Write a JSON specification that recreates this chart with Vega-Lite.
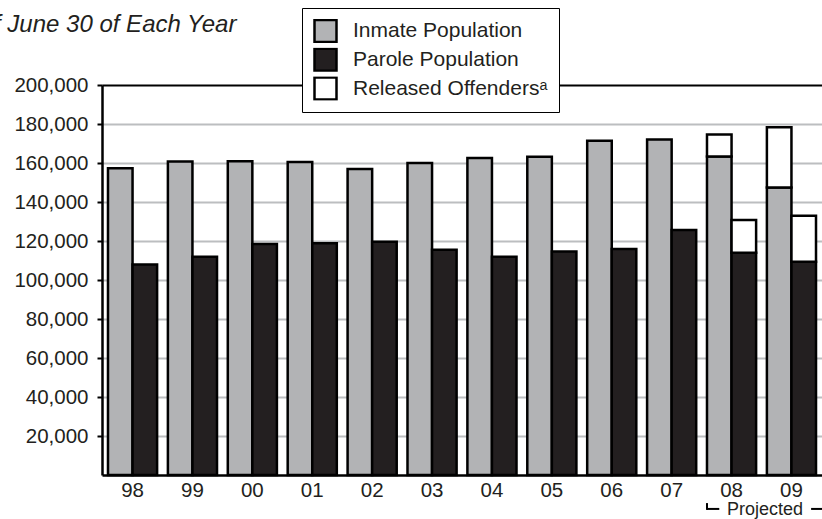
{
  "$schema": "https://vega.github.io/schema/vega-lite/v6.json",
  "width": 720,
  "height": 390,
  "autosize": "none",
  "padding": {"left": 102, "top": 85, "right": 0, "bottom": 44},
  "background": "white",
  "config": {"view": {"stroke": null}, "font": "Liberation Sans"},
  "title": {
    "text": "As of June 30 of Each Year",
    "anchor": "start",
    "frame": "group",
    "dx": -156,
    "dy": 33,
    "fontSize": 24,
    "fontStyle": "italic",
    "fontWeight": "normal",
    "color": "#231f20",
    "font": "Liberation Sans"
  },
  "layer": [
    {
      "data": {
        "values": [
          {"year": "98", "group": "Inmate", "series": "Inmate Population", "lo": 0, "hi": 157300},
          {"year": "98", "group": "Parole", "series": "Parole Population", "lo": 0, "hi": 108000},
          {"year": "99", "group": "Inmate", "series": "Inmate Population", "lo": 0, "hi": 160800},
          {"year": "99", "group": "Parole", "series": "Parole Population", "lo": 0, "hi": 111900},
          {"year": "00", "group": "Inmate", "series": "Inmate Population", "lo": 0, "hi": 160900},
          {"year": "00", "group": "Parole", "series": "Parole Population", "lo": 0, "hi": 118500},
          {"year": "01", "group": "Inmate", "series": "Inmate Population", "lo": 0, "hi": 160500},
          {"year": "01", "group": "Parole", "series": "Parole Population", "lo": 0, "hi": 118800},
          {"year": "02", "group": "Inmate", "series": "Inmate Population", "lo": 0, "hi": 156900},
          {"year": "02", "group": "Parole", "series": "Parole Population", "lo": 0, "hi": 119600},
          {"year": "03", "group": "Inmate", "series": "Inmate Population", "lo": 0, "hi": 160000},
          {"year": "03", "group": "Parole", "series": "Parole Population", "lo": 0, "hi": 115500},
          {"year": "04", "group": "Inmate", "series": "Inmate Population", "lo": 0, "hi": 162600},
          {"year": "04", "group": "Parole", "series": "Parole Population", "lo": 0, "hi": 111900},
          {"year": "05", "group": "Inmate", "series": "Inmate Population", "lo": 0, "hi": 163200},
          {"year": "05", "group": "Parole", "series": "Parole Population", "lo": 0, "hi": 114600},
          {"year": "06", "group": "Inmate", "series": "Inmate Population", "lo": 0, "hi": 171400},
          {"year": "06", "group": "Parole", "series": "Parole Population", "lo": 0, "hi": 115900},
          {"year": "07", "group": "Inmate", "series": "Inmate Population", "lo": 0, "hi": 172000},
          {"year": "07", "group": "Parole", "series": "Parole Population", "lo": 0, "hi": 125600},
          {"year": "08", "group": "Inmate", "series": "Inmate Population", "lo": 0, "hi": 163300},
          {"year": "08", "group": "Inmate", "series": "Released Offendersᵃ", "lo": 163300, "hi": 174600},
          {"year": "08", "group": "Parole", "series": "Parole Population", "lo": 0, "hi": 114000},
          {"year": "08", "group": "Parole", "series": "Released Offendersᵃ", "lo": 114000, "hi": 130800},
          {"year": "09", "group": "Inmate", "series": "Inmate Population", "lo": 0, "hi": 147400},
          {"year": "09", "group": "Inmate", "series": "Released Offendersᵃ", "lo": 147400, "hi": 178300},
          {"year": "09", "group": "Parole", "series": "Parole Population", "lo": 0, "hi": 109400},
          {"year": "09", "group": "Parole", "series": "Released Offendersᵃ", "lo": 109400, "hi": 133000}
        ]
      },
      "mark": {"type": "bar", "stroke": "black", "strokeWidth": 2.5},
      "encoding": {
        "x": {
          "field": "year",
          "type": "nominal",
          "title": null,
          "scale": {
            "domain": ["98", "99", "00", "01", "02", "03", "04", "05", "06", "07", "08", "09"],
            "paddingInner": 0.18,
            "paddingOuter": 0.1
          },
          "axis": {
            "ticks": false,
            "domainColor": "black",
            "domainWidth": 2.5,
            "labelFontSize": 20.5,
            "labelColor": "#231f20",
            "labelFont": "Liberation Sans",
            "labelPadding": 5,
            "labelAngle": 0,
            "grid": false
          }
        },
        "xOffset": {
          "field": "group",
          "type": "nominal",
          "scale": {"domain": ["Inmate", "Parole"], "paddingInner": 0, "paddingOuter": 0}
        },
        "y": {
          "field": "lo",
          "type": "quantitative",
          "title": null,
          "scale": {"domain": [0, 200000], "nice": false, "zero": true},
          "axis": {
            "values": [20000, 40000, 60000, 80000, 100000, 120000, 140000, 160000, 180000, 200000],
            "format": ",d",
            "domainColor": "black",
            "domainWidth": 2.5,
            "tickColor": "black",
            "tickWidth": 2,
            "tickSize": 5,
            "labelFontSize": 20.5,
            "labelColor": "#231f20",
            "labelFont": "Liberation Sans",
            "labelPadding": 9,
            "grid": true,
            "gridWidth": 2,
            "gridColor": {"condition": {"test": "datum.value === 200000", "value": "black"}, "value": "#bcbec0"}
          }
        },
        "y2": {"field": "hi"},
        "color": {
          "field": "series",
          "type": "nominal",
          "scale": {
            "domain": ["Inmate Population", "Parole Population", "Released Offendersᵃ"],
            "range": ["#b2b3b5", "#231f20", "#ffffff"]
          },
          "legend": {
            "title": null,
            "orient": "none",
            "legendX": 200,
            "legendY": -77,
            "fillColor": "white",
            "strokeColor": "black",
            "padding": 11,
            "symbolType": "square",
            "symbolSize": 484,
            "symbolStrokeColor": "black",
            "symbolStrokeWidth": 2.5,
            "symbolOpacity": 1,
            "labelFontSize": 21,
            "labelFont": "Liberation Sans",
            "labelColor": "#231f20",
            "labelOffset": 15,
            "labelLimit": 400,
            "clipHeight": 24,
            "rowPadding": 4.8
          }
        }
      }
    },
    {
      "data": {"values": [{"year": "08", "year2": "08"}]},
      "mark": {"type": "rule", "stroke": "black", "strokeWidth": 2},
      "encoding": {
        "x": {"field": "year", "type": "nominal", "title": null, "bandPosition": 0},
        "x2": {"field": "year2", "bandPosition": 0.25},
        "y": {"datum": -17400, "type": "quantitative", "title": null}
      }
    },
    {
      "data": {"values": [{"year": "08"}]},
      "mark": {"type": "rule", "stroke": "black", "strokeWidth": 2},
      "encoding": {
        "x": {"field": "year", "type": "nominal", "title": null, "bandPosition": 0},
        "y": {"datum": -14400, "type": "quantitative", "title": null},
        "y2": {"datum": -17900}
      }
    },
    {
      "data": {"values": [{"year": "09", "year2": "09"}]},
      "mark": {"type": "rule", "stroke": "black", "strokeWidth": 2},
      "encoding": {
        "x": {"field": "year", "type": "nominal", "title": null, "bandPosition": 0.9},
        "x2": {"field": "year2", "bandPosition": 1.25},
        "y": {"datum": -17400, "type": "quantitative", "title": null}
      }
    },
    {
      "data": {"values": [{"year": "08", "label": "Projected"}]},
      "mark": {"type": "text", "fontSize": 18, "font": "Liberation Sans", "color": "#231f20", "align": "center", "baseline": "alphabetic"},
      "encoding": {
        "x": {"field": "year", "type": "nominal", "title": null, "bandPosition": 1.18},
        "y": {"datum": -20300, "type": "quantitative", "title": null},
        "text": {"field": "label"}
      }
    }
  ]
}
